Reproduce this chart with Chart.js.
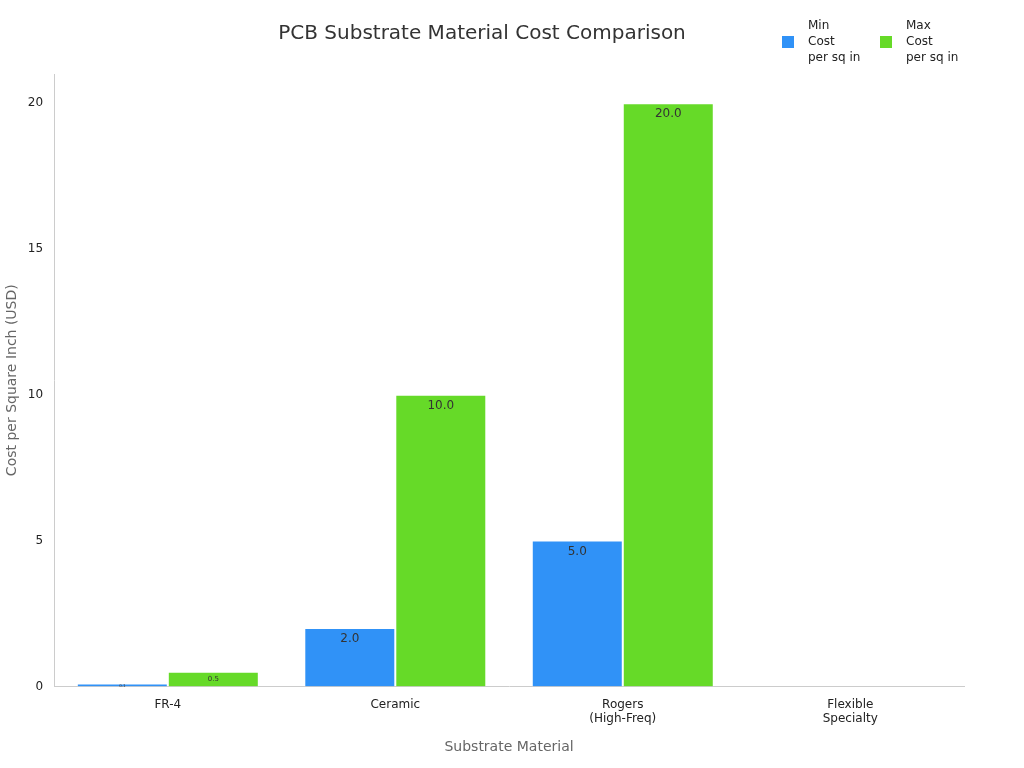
<!DOCTYPE html>
<html>
<head>
<meta charset="utf-8">
<script src="https://cdn.jsdelivr.net/npm/chart.js@4/dist/chart.umd.min.js"></script>
<style>
  html, body { margin: 0; background: #fff; overflow: hidden; }
</style>
</head>
<body>
<canvas id="c" width="1024" height="768"></canvas>
<script>
// ── Data ─────────────────────────────────────────────────
const categories = [["FR-4"], ["Ceramic"], ["Rogers", "(High-Freq)"], ["Flexible", "Specialty"]];
const minCost = [0.1, 2.0, 5.0, null];
const maxCost = [0.5, 10.0, 20.0, null];
const seriesNames = [["Min", "Cost", "per sq in"], ["Max", "Cost", "per sq in"]];
const colors = ["#3092f7", "#66da28"];

const FONT = "'DejaVu Sans', sans-serif";

// value labels drawn just inside the top of each bar
const barLabels = {
  id: "barLabels",
  afterDatasetsDraw(chart) {
    const ctx = chart.ctx;
    chart.data.datasets.forEach((ds, i) => {
      chart.getDatasetMeta(i).data.forEach((bar, j) => {
        const v = ds.data[j];
        if (v == null) return;
        const h = bar.base - bar.y;
        const size = h < 8 ? 4 : h < 20 ? 7 : 12;
        ctx.save();
        ctx.font = `${size}px ${FONT}`;
        ctx.fillStyle = "#333";
        ctx.textAlign = "center";
        ctx.textBaseline = "top";
        ctx.fillText(v.toFixed(1), bar.x, bar.y + (h < 20 ? Math.max(0, h / 2 - size / 2) : 5));
        ctx.restore();
      });
    });
  },
};

// legend with three-line labels at top right
const topLegend = {
  id: "topLegend",
  afterDraw(chart) {
    const ctx = chart.ctx;
    const xs = [782, 880];
    ctx.save();
    ctx.font = `12px ${FONT}`;
    ctx.textBaseline = "middle";
    seriesNames.forEach((lines, i) => {
      ctx.fillStyle = colors[i];
      ctx.fillRect(xs[i], 36, 12, 12);
      ctx.fillStyle = "#222";
      lines.forEach((t, k) => ctx.fillText(t, xs[i] + 26, 26 + k * 16));
    });
    ctx.restore();
  },
};

new Chart(document.getElementById("c"), {
  type: "bar",
  data: {
    labels: categories,
    datasets: [
      { label: "Min Cost per sq in", data: minCost, backgroundColor: colors[0], borderColor: "#fff", borderWidth: 1 },
      { label: "Max Cost per sq in", data: maxCost, backgroundColor: colors[1], borderColor: "#fff", borderWidth: 1 },
    ],
  },
  options: {
    responsive: false,
    animation: false,
    devicePixelRatio: 1,
    layout: { padding: { top: 0, right: 60, left: 0, bottom: 8 } },
    datasets: { bar: { categoryPercentage: 0.8, barPercentage: 1.0 } },
    plugins: {
      legend: { display: false },
      tooltip: { enabled: false },
      title: {
        display: true,
        text: "PCB Substrate Material Cost Comparison",
        color: "#333",
        font: { family: FONT, size: 20, weight: "normal" },
        padding: { top: 22, bottom: 28 },
      },
    },
    scales: {
      x: {
        grid: { display: false },
        border: { color: "#ccc" },
        ticks: { autoSkip: false, maxRotation: 0, color: "#222", font: { family: FONT, size: 12 } },
        title: { display: true, text: "Substrate Material", color: "#666", font: { family: FONT, size: 14 }, padding: { top: 10 } },
      },
      y: {
        min: 0, max: 21,
        grid: { display: false },
        border: { color: "#ccc" },
        ticks: { stepSize: 5, color: "#222", font: { family: FONT, size: 12 }, callback: (v) => (v % 5 === 0 ? v : "") },
        title: { display: true, text: "Cost per Square Inch (USD)", color: "#666", font: { family: FONT, size: 14 } },
      },
    },
  },
  plugins: [barLabels, topLegend],
});
</script>
</body>
</html>
